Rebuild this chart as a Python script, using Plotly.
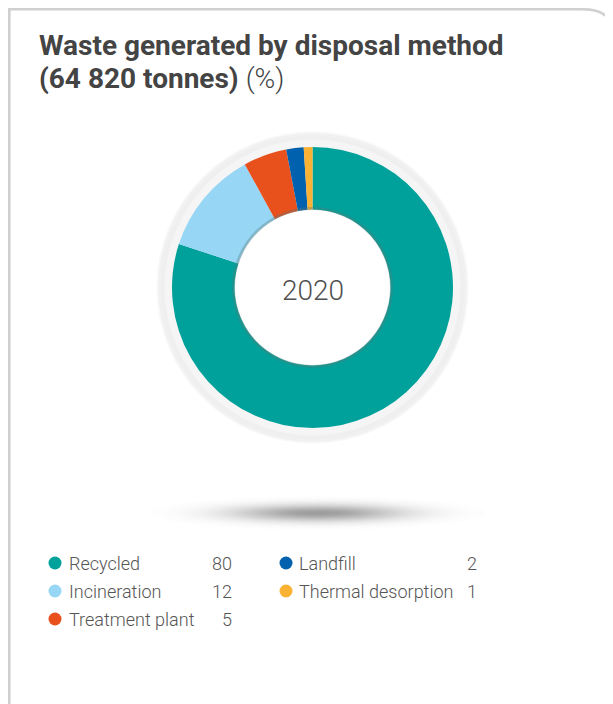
import math
import plotly.graph_objects as go

# page is offset by the browser's 8px body margin; axes are set so data coords == page pixels
OFF = 8
W, H = 613 - OFF, 704 - OFF

categories = ["Recycled", "Incineration", "Treatment plant", "Landfill", "Thermal desorption"]
values = [80, 12, 5, 2, 1]
colors = ["#00A19A", "#97D7F5", "#E8501C", "#0061AE", "#F9B233"]
center_label = "2020"

# legend layout (two columns)
legend_cols = [0, 0, 0, 1, 1]
legend_rows = [0, 1, 2, 0, 1]


def fx(px):
    return (px - OFF) / W


def fy(py):
    return 1 - (py - OFF) / H


fig = go.Figure()

# donut geometry in page pixels
cx, cy, R = 312.5, 287.5, 140.5
hole_r = 78

fig.add_trace(go.Pie(
    labels=categories, values=values, sort=False, direction="clockwise", rotation=0,
    hole=hole_r / R, marker=dict(colors=colors, line=dict(width=0)),
    textinfo="none", hoverinfo="label+value", showlegend=False,
    domain=dict(x=[fx(cx - R), fx(cx + R)], y=[fy(cy + R), fy(cy - R)]),
))

# legend markers through cartesian axes
col_dot_x = [55, 286]
col_text_x = [67, 297]
col_val_x = [234, 479]
row_y = [563, 591, 619]

fig.add_trace(go.Scatter(
    x=[col_dot_x[c] for c in legend_cols],
    y=[row_y[r] for r in legend_rows],
    mode="markers",
    marker=dict(size=13, color=colors, line=dict(width=0)),
    hoverinfo="skip", showlegend=False,
))

shapes = []
# card border
shapes.append(dict(type="path", xref="x", yref="y",
                   path="M 9.3 720 L 9.3 9.3 L 583 9.3 Q 616 9.3 616 42",
                   line=dict(color="#D0D0D0", width=2.6), layer="below"))

# outer grey halo ring
for r, col in [(156, "#F8F8F8"), (154.5, "#F1F1F1"), (152, "#EFEFEF"), (148, "#F5F5F5")]:
    shapes.append(dict(type="circle", xref="x", yref="y",
                       x0=cx - r, x1=cx + r, y0=cy - r, y1=cy + r,
                       fillcolor=col, line=dict(width=0), layer="below"))
# white hole
shapes.append(dict(type="circle", xref="x", yref="y",
                   x0=cx - hole_r - 2, x1=cx + hole_r + 2, y0=cy - hole_r - 2, y1=cy + hole_r + 2,
                   fillcolor="white", line=dict(width=0), layer="below"))

# inner hole shadow
shapes.append(dict(type="circle", xref="x", yref="y",
                   x0=cx - hole_r - 1, x1=cx + hole_r + 1, y0=cy - hole_r - 1, y1=cy + hole_r + 1,
                   fillcolor="rgba(0,0,0,0)", line=dict(color="rgba(90,120,120,0.35)", width=3),
                   layer="above"))

# soft (gaussian-like) shadow ellipse below the donut
sx, sy, srx, sry = 318, 513, 168, 17
N = 50
sigma = 1 / math.sqrt(2 * math.log(N))
for k in range(1, N + 1):
    f = sigma * math.sqrt(2 * math.log(N / k)) if k < N else 0.03
    shapes.append(dict(type="circle", xref="x", yref="y",
                       x0=sx - srx * f, x1=sx + srx * f, y0=sy - sry * f, y1=sy + sry * f,
                       fillcolor="rgba(50,50,50,0.0085)", line=dict(width=0), layer="below"))

title_font = dict(family="Roboto", size=28, color="#444444")
annotations = [
    dict(x=37, y=45, xref="x", yref="y", xanchor="left", yanchor="middle",
         text="<b>Waste generated by disposal method</b>", showarrow=False, font=title_font),
    dict(x=37, y=78, xref="x", yref="y", xanchor="left", yanchor="middle",
         text="<b>(64 820 tonnes)</b> <span style='font-weight:300'>(%)</span>",
         showarrow=False, font=title_font),
    dict(x=cx, y=cy + 3, xref="x", yref="y", text=center_label, showarrow=False,
         font=dict(family="Roboto", size=28, color="#505050", weight=300)),
]
leg_font = dict(family="Roboto", size=18, color="#555555", weight=300)
for cat, v, c, r in zip(categories, values, legend_cols, legend_rows):
    annotations.append(dict(
        x=col_text_x[c], y=row_y[r], xref="x", yref="y", xanchor="left", yanchor="middle",
        text=cat, showarrow=False, font=leg_font,
    ))
    annotations.append(dict(
        x=col_val_x[c], y=row_y[r], xref="x", yref="y", xanchor="right", yanchor="middle",
        text=str(v), showarrow=False, font=leg_font,
    ))

fig.update_layout(
    width=W, height=H, margin=dict(l=0, r=0, t=0, b=0),
    paper_bgcolor="white", plot_bgcolor="rgba(0,0,0,0)",
    xaxis=dict(range=[OFF, 613], visible=False, fixedrange=True),
    yaxis=dict(range=[704, OFF], visible=False, fixedrange=True),
    shapes=shapes, annotations=annotations, showlegend=False,
)

fig.write_html("out.html")
